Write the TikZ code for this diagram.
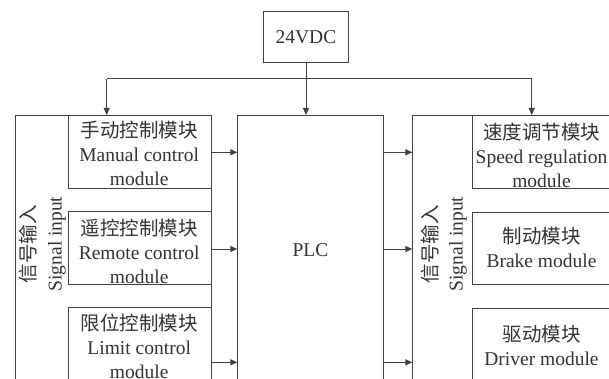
\documentclass[tikz,border=0pt]{standalone}
\usepackage{fontspec}
\setmainfont{Liberation Serif}
\newfontfamily\cjk{Noto Sans CJK SC}
\usetikzlibrary{arrows.meta,calc}
\definecolor{ln}{HTML}{404040}
\definecolor{tx}{HTML}{333333}
\tikzset{
  box/.style={draw=ln, line width=1pt, rectangle, inner sep=0pt, anchor=north west},
  txt/.style={text=tx, align=center, inner sep=0pt, font=\fontsize{19.5}{24}\selectfont},
  arr/.style={draw=ln, line width=1pt, -{Triangle[length=7pt,width=6pt]}},
  wire/.style={draw=ln, line width=1pt}
}
\begin{document}
\begin{tikzpicture}[x=1pt,y=-1pt]
\useasboundingbox (0,0) rectangle (609,379);
\clip (0,0) rectangle (609,379);
\fill[white] (0,0) rectangle (609,379);
% power
\node[box, minimum width=85pt, minimum height=51.3pt] (pwr) at (263.3,11) {};
\node[txt] (pwrt) at (306,37) {24VDC};
% PLC
\node[box, minimum width=145.7pt, minimum height=280pt] (plc) at (237.3,115) {};
\node[txt] (plct) at (310.5,250) {PLC};
% left outer
\node[box, minimum width=195.7pt, minimum height=280pt] (lin) at (15,115) {};
\node[box, minimum width=143pt, minimum height=72.7pt] (m1) at (67.7,115) {};
\node[box, minimum width=143pt, minimum height=72.7pt] (m2) at (67.7,211) {};
\node[box, minimum width=143pt, minimum height=80pt] (m3) at (67.7,307.3) {};
\node[txt] (m1t) at (139.2,153.5) {{\cjk 手动控制模块}\\Manual control\\module};
\node[txt] (m2t) at (139.2,251.5) {{\cjk 遥控控制模块}\\Remote control\\module};
\node[txt] (m3t) at (139.2,346.5) {{\cjk 限位控制模块}\\Limit control\\module};
\node[txt, rotate=90] (lc) at (28,244) {\cjk 信号输入};
\node[txt, rotate=90] (ls) at (57,244) {Signal input};
% right outer
\node[box, minimum width=200pt, minimum height=280pt] (rin) at (412.3,115) {};
\node[box, minimum width=140pt, minimum height=73.3pt] (r1) at (472.3,115) {};
\node[box, minimum width=140pt, minimum height=72pt] (r2) at (472.3,211.7) {};
\node[box, minimum width=140pt, minimum height=80pt] (r3) at (472.3,308.3) {};
\node[txt] (r1t) at (541.5,155) {{\cjk 速度调节模块}\\Speed regulation\\module};
\node[txt] (r2t) at (541.5,247.6) {{\cjk 制动模块}\\Brake module};
\node[txt] (r3t) at (541.5,345.3) {{\cjk 驱动模块}\\Driver module};
\node[txt, rotate=90] (rc) at (430,244) {\cjk 信号输入};
\node[txt, rotate=90] (rs) at (458,244) {Signal input};
% bus
\coordinate (bl) at (106.7,79);
\coordinate (bm) at (306,79);
\coordinate (br) at (531.7,79);
\draw[arr] (bm |- pwr.south) -- (bm |- plc.north);
\draw[wire] (bl) -- (br);
\draw[arr] (bl) -- (bl |- lin.north);
\draw[arr] (br) -- (br |- rin.north);
% arrows
\coordinate (a1) at (0,152.3);
\coordinate (a2) at (0,249);
\coordinate (a3) at (0,362.3);
\draw[arr] (m1.east |- a1) -- (plc.west |- a1);
\draw[arr] (m2.east |- a2) -- (plc.west |- a2);
\draw[arr] (m3.east |- a3) -- (plc.west |- a3);
\draw[arr] (plc.east |- a1) -- (rin.west |- a1);
\draw[arr] (plc.east |- a2) -- (rin.west |- a2);
\draw[arr] (plc.east |- a3) -- (rin.west |- a3);
\end{tikzpicture}
\end{document}
